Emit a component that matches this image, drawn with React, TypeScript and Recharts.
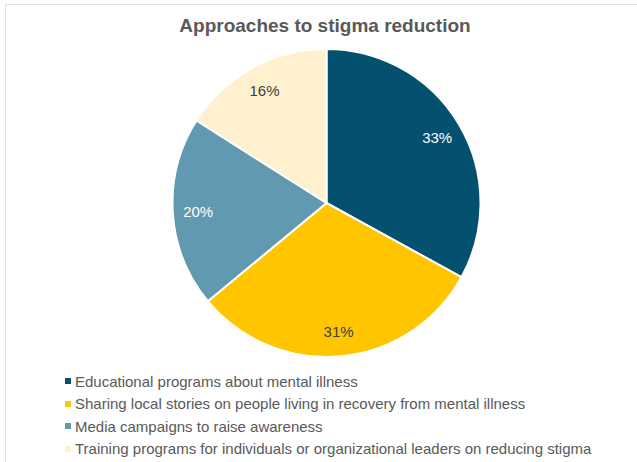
import { PieChart, Pie, Cell } from 'recharts';

const categories = [
  'Educational programs about mental illness',
  'Sharing local stories on people living in recovery from mental illness',
  'Media campaigns to raise awareness',
  'Training programs for individuals or organizational leaders on reducing stigma',
];
const shares = [33, 31, 20, 16];
const colors = ['#03506f', '#ffc600', '#6199b0', '#fff1ce'];
const labelColors = ['#ffffff', '#404040', '#ffffff', '#404040'];

const data = categories.map((name, i) => ({ name, value: shares[i] }));

const FONT = '"Liberation Sans", Arial, sans-serif';
const RAD = Math.PI / 180;

function renderLabel(props: any) {
  const { cx, cy, midAngle, outerRadius, index, value } = props;
  const r = outerRadius * 0.835;
  const x = cx + r * Math.cos(-midAngle * RAD);
  const y = cy + r * Math.sin(-midAngle * RAD);
  return (
    <text
      key={index}
      x={x}
      y={y}
      fill={labelColors[index]}
      textAnchor="middle"
      dominantBaseline="central"
      fontSize={15}
      fontFamily={FONT}
    >
      {value}%
    </text>
  );
}

export default function App() {
  return (
    <div style={{ position: 'absolute', left: 0, top: 0, width: 637, height: 462, background: '#fff', overflow: 'hidden' }}>
      <div
        style={{
          position: 'absolute',
          left: 5,
          top: 4,
          width: 700,
          height: 500,
          borderTop: '1.5px solid #e3e3e3',
          borderLeft: '1.5px solid #e3e3e3',
        }}
      />
      <div
        style={{
          position: 'absolute',
          left: 0,
          top: 14.5,
          width: 650,
          textAlign: 'center',
          fontFamily: FONT,
          fontWeight: 'bold',
          fontSize: 19,
          color: '#595959',
        }}
      >
        Approaches to stigma reduction
      </div>
      <div style={{ position: 'absolute', left: 0, top: 40 }}>
        <PieChart width={637} height={330} margin={{ top: 0, right: 0, bottom: 0, left: 0 }}>
          <Pie
            data={data}
            dataKey="value"
            nameKey="name"
            cx={326.5}
            cy={163}
            outerRadius={154}
            startAngle={90}
            endAngle={-270}
            stroke="#ffffff"
            strokeWidth={2}
            label={renderLabel}
            labelLine={false}
            isAnimationActive={false}
          >
            {data.map((_, i) => (
              <Cell key={i} fill={colors[i]} />
            ))}
          </Pie>
        </PieChart>
      </div>
      <div style={{ position: 'absolute', left: 65, top: 370, fontFamily: FONT, fontSize: 15, color: '#595959' }}>
        {categories.map((c, i) => (
          <div key={c} style={{ display: 'flex', alignItems: 'center', height: 22.5, whiteSpace: 'nowrap' }}>
            <span
              style={{
                display: 'inline-block',
                width: 6,
                height: 6,
                background: colors[i],
                marginRight: 4,
              }}
            />
            {c}
          </div>
        ))}
      </div>
    </div>
  );
}
